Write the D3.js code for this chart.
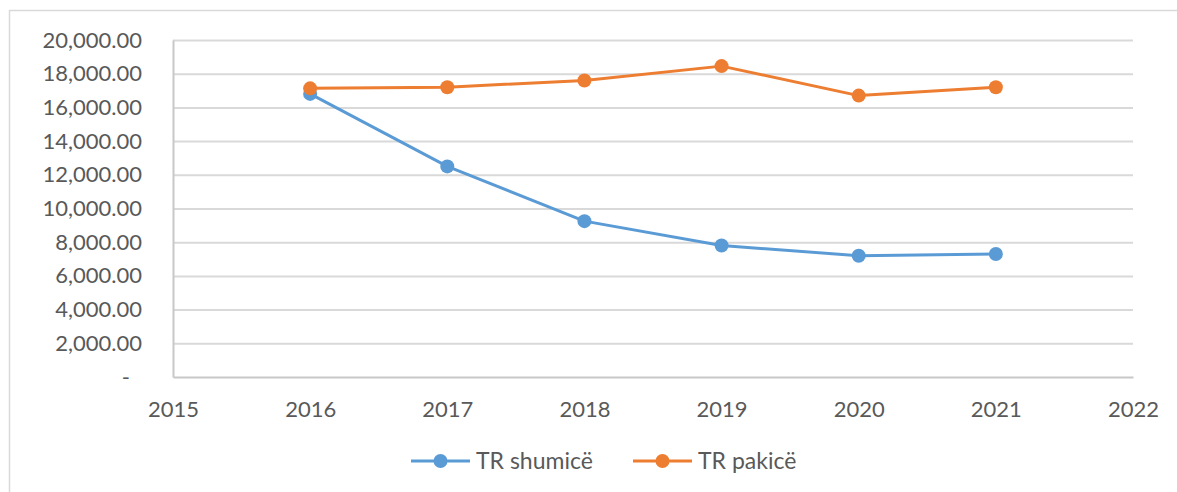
<!DOCTYPE html>
<html>
<head>
<meta charset="utf-8">
<script src="https://cdn.jsdelivr.net/npm/d3@7"></script>
<style>
    html, body { margin: 0; padding: 0; background: #fff; }
    svg { display: block; }
</style>
</head>
<body>
<svg id="chart_svg" width="1177" height="492"></svg>
<script>
// data
const years = [2016, 2017, 2018, 2019, 2020, 2021];
const shumice = [16800, 12500, 9250, 7800, 7200, 7300];
const pakice = [17130, 17200, 17600, 18450, 16700, 17200];
const seriesNames = ['TR shumicë', 'TR pakicë'];
const yTicks = [0, 2000, 4000, 6000, 8000, 10000, 12000, 14000, 16000, 18000, 20000];
const xTicks = [2015, 2016, 2017, 2018, 2019, 2020, 2021, 2022];

const colors = {
    shumice: '#5b9bd5',
    pakice: '#ed7d31',
    grid: '#d9d9d9',
    axis: '#c8c8c8',
    text: '#595959'
};
const fontFamily = 'Lato, "Open Sans", sans-serif';

const svg = d3.select('#chart_svg')
    .attr('font-family', fontFamily);
const svgWidth = +svg.attr('width');
const svgHeight = +svg.attr('height');

// chart frame, only left and top edges show in the picture
svg.append('path')
    .attr('d', `M9.5,${svgHeight} V10.5 H${svgWidth}`)
    .attr('fill', 'none')
    .attr('stroke', colors.grid)
    .attr('stroke-width', 1.5);

const margin = {top: 40, right: 44, bottom: 115, left: 173};
const innerWidth = svgWidth - margin.left - margin.right;
const innerHeight = svgHeight - margin.top - margin.bottom;

const xScale = d3.scaleLinear()
    .domain([2015, 2022])
    .range([0, innerWidth]);

const yScale = d3.scaleLinear()
    .domain([0, 20000])
    .range([innerHeight, 0]);

const g = svg.append('g')
    .attr('transform', `translate(${margin.left}, ${margin.top})`);

// gridlines
const gridG = g.append('g')
    .call(d3.axisLeft(yScale).tickValues(yTicks.slice(1)).tickSize(-innerWidth).tickFormat(''));
gridG.select('.domain').remove();
gridG.selectAll('text').remove();
gridG.selectAll('line')
    .attr('stroke', colors.grid)
    .attr('stroke-width', 2);

// y axis labels
const fmt = d3.format(',.2f');
const yAxisG = g.append('g')
    .call(d3.axisLeft(yScale)
        .tickValues(yTicks)
        .tickSize(0)
        .tickPadding(31)
        .tickFormat(d => d === 0 ? '-' : fmt(d)))
    .attr('font-family', fontFamily)
    .attr('font-size', 22);
yAxisG.select('.domain')
    .attr('stroke', colors.axis)
    .attr('stroke-width', 2);
yAxisG.selectAll('text')
    .attr('fill', colors.text)
    .filter(d => d === 0)
    .attr('dx', '-12px');

// x axis
const xAxisG = g.append('g')
    .attr('transform', `translate(0, ${innerHeight})`)
    .call(d3.axisBottom(xScale)
        .tickValues(xTicks)
        .tickSize(0)
        .tickFormat(d3.format('d')))
    .attr('font-family', fontFamily)
    .attr('font-size', 22);
xAxisG.select('.domain')
    .attr('stroke', colors.axis)
    .attr('stroke-width', 2);
xAxisG.selectAll('text')
    .attr('fill', colors.text)
    .attr('y', 32)
    .attr('dy', '0.35em');

// lines + markers
const series = [
    {name: seriesNames[0], values: shumice, color: colors.shumice},
    {name: seriesNames[1], values: pakice, color: colors.pakice}
];

const line = d3.line()
    .x((d, i) => xScale(years[i]))
    .y(d => yScale(d));

series.forEach(function (s) {
    g.append('path')
        .datum(s.values)
        .attr('d', line)
        .attr('fill', 'none')
        .attr('stroke', s.color)
        .attr('stroke-width', 3)
        .attr('stroke-linejoin', 'round');

    g.selectAll(null)
        .data(s.values)
        .enter()
        .append('circle')
        .attr('cx', (d, i) => xScale(years[i]))
        .attr('cy', d => yScale(d))
        .attr('r', 7)
        .attr('fill', s.color);
});

// legend
const legendY = 461;
const legendStarts = [411, 633];
series.forEach(function (s, i) {
    const lg = svg.append('g')
        .attr('transform', `translate(${legendStarts[i]}, ${legendY})`);
    lg.append('line')
        .attr('x1', 0)
        .attr('x2', 59)
        .attr('stroke', s.color)
        .attr('stroke-width', 3);
    lg.append('circle')
        .attr('cx', 29.5)
        .attr('r', 7)
        .attr('fill', s.color);
    lg.append('text')
        .attr('x', 65)
        .attr('dy', '0.35em')
        .attr('fill', colors.text)
        .attr('font-size', 23)
        .text(s.name);
});
</script>
</body>
</html>
